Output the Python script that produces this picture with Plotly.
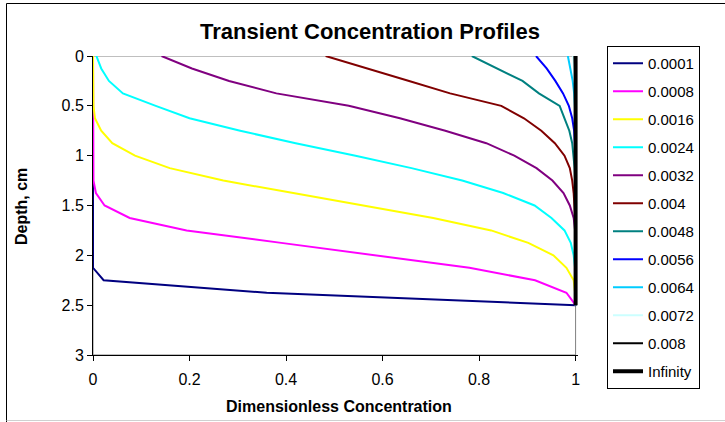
import plotly.graph_objects as go

# Depth grid (cm)
depth = [0.0, 0.125, 0.25, 0.375, 0.5, 0.625, 0.75, 0.875, 1.0, 1.125, 1.25,
         1.375, 1.5, 1.625, 1.75, 1.875, 2.0, 2.125, 2.25, 2.375, 2.5]

# Dimensionless concentration at each depth, one list per time
c_0001 = [0, 0, 0, 0, 0, 0, 0, 0, 0, 0, 0, 0, 0, 0, 0, 0, 0, 0.0, 0.022, 0.36, 1.0]
c_0008 = [0, 0, 0, 0, 0, 0, 0, 0, 0, 0, 0.001, 0.006, 0.024, 0.076, 0.194, 0.39,
          0.585, 0.78, 0.916, 0.981, 1.0]
c_0016 = [0, 0, 0, 0, 0.001, 0.004, 0.017, 0.040, 0.087, 0.159, 0.27, 0.415, 0.56,
          0.705, 0.825, 0.902, 0.954, 0.981, 0.996, 0.999, 1.0]
c_0024 = [0.007, 0.017, 0.033, 0.062, 0.13, 0.2, 0.305, 0.42, 0.544, 0.66, 0.765,
          0.85, 0.915, 0.95, 0.977, 0.99, 0.996, 0.999, 1.0, 1.0, 1.0]
c_0032 = [0.142, 0.205, 0.282, 0.38, 0.53, 0.636, 0.73, 0.815, 0.873, 0.919, 0.952,
          0.975, 0.988, 0.996, 0.999, 1.0, 1.0, 1.0, 1.0, 1.0, 1.0]
c_004 = [0.482, 0.57, 0.655, 0.74, 0.846, 0.893, 0.929, 0.957, 0.977, 0.988, 0.993,
         0.996, 0.998, 0.999, 1.0, 1.0, 1.0, 1.0, 1.0, 1.0, 1.0]
c_0048 = [0.785, 0.837, 0.89, 0.924, 0.967, 0.977, 0.987, 0.993, 0.996, 0.998, 0.999,
          1.0, 1.0, 1.0, 1.0, 1.0, 1.0, 1.0, 1.0, 1.0, 1.0]
c_0056 = [0.918, 0.94, 0.958, 0.974, 0.986, 0.993, 0.997, 0.999, 1.0, 1.0, 1.0,
          1.0, 1.0, 1.0, 1.0, 1.0, 1.0, 1.0, 1.0, 1.0, 1.0]
c_0064 = [0.984, 0.989, 0.994, 0.997, 0.999, 1.0, 1.0, 1.0, 1.0, 1.0, 1.0,
          1.0, 1.0, 1.0, 1.0, 1.0, 1.0, 1.0, 1.0, 1.0, 1.0]
c_0072 = [0.995, 0.997, 0.999, 1.0, 1.0, 1.0, 1.0, 1.0, 1.0, 1.0, 1.0,
          1.0, 1.0, 1.0, 1.0, 1.0, 1.0, 1.0, 1.0, 1.0, 1.0]
c_008 = [0.998, 0.999, 1.0, 1.0, 1.0, 1.0, 1.0, 1.0, 1.0, 1.0, 1.0,
         1.0, 1.0, 1.0, 1.0, 1.0, 1.0, 1.0, 1.0, 1.0, 1.0]
c_inf = [1.0, 1.0, 1.0, 1.0, 1.0, 1.0, 1.0, 1.0, 1.0, 1.0, 1.0,
         1.0, 1.0, 1.0, 1.0, 1.0, 1.0, 1.0, 1.0, 1.0, 1.0]

series_names = ["0.0001", "0.0008", "0.0016", "0.0024", "0.0032", "0.004",
                "0.0048", "0.0056", "0.0064", "0.0072", "0.008", "Infinity"]
series_values = [c_0001, c_0008, c_0016, c_0024, c_0032, c_004,
                 c_0048, c_0056, c_0064, c_0072, c_008, c_inf]
series_colors = ["#000080", "#FF00FF", "#FFFF00", "#00FFFF", "#800080", "#800000",
                 "#008080", "#0000FF", "#00CCFF", "#CCFFFF", "#000000", "#000000"]
series_widths = [2, 2, 2, 2, 2, 2, 2, 2, 2, 2, 2, 4]

x_tick_vals = [0, 0.2, 0.4, 0.6, 0.8, 1.0]
x_tick_text = ["0", "0.2", "0.4", "0.6", "0.8", "1"]
y_tick_vals = [0, 0.5, 1.0, 1.5, 2.0, 2.5, 3.0]
y_tick_text = ["0", "0.5", "1", "1.5", "2", "2.5", "3"]

FONT = "Liberation Sans, Arial, sans-serif"

fig = go.Figure()
for name, vals, color, w in zip(series_names, series_values, series_colors, series_widths):
    fig.add_trace(go.Scatter(x=vals, y=depth, mode="lines", name=name,
                             legendgroup=name,
                             line=dict(color=color, width=w)))

W, H = 725, 422
L, R, T, B = 93, 147, 56, 67
pw, ph = W - L - R, H - T - B


def px(xp):
    return (xp - L) / pw


def py(yp):
    return (H - B - yp) / ph


fig.update_layout(
    width=W, height=H,
    margin=dict(l=L, r=R, t=T, b=B),
    paper_bgcolor="white", plot_bgcolor="white",
    font=dict(family=FONT, color="black"),
    title=dict(text="Transient Concentration Profiles",
               font=dict(size=22, weight="bold", family=FONT, color="black"),
               x=370 / W, xref="container", xanchor="center",
               y=1 - 31 / H, yref="container", yanchor="middle"),
    showlegend=True,
    legend=dict(x=607 / W, y=1 - 46 / H, xref="container", yref="container",
                xanchor="left", yanchor="top", maxheight=400,
                bordercolor="#000000", borderwidth=1, bgcolor="white",
                font=dict(size=15, family=FONT, color="black"),
                tracegroupgap=5.5, itemwidth=30, traceorder="grouped"),
    xaxis=dict(range=[0, 1.005], tickvals=x_tick_vals, ticktext=x_tick_text,
               ticks="outside", ticklen=5, tickcolor="black", showline=True,
               linecolor="black", linewidth=1, showgrid=False, zeroline=False,
               ticklabelstandoff=5,
               layer="below traces", tickfont=dict(size=16, family=FONT, color="black")),
    yaxis=dict(range=[3, 0], tickvals=y_tick_vals, ticktext=y_tick_text,
               ticks="outside", ticklen=5, tickcolor="black", showline=True,
               linecolor="black", linewidth=1, showgrid=False, zeroline=False,
               layer="below traces", tickfont=dict(size=16, family=FONT, color="black")),
    shapes=[
        dict(type="rect", xref="x", yref="y", x0=0, x1=1, y0=0, y1=3,
             line=dict(color="#808080", width=1), layer="below"),
        dict(type="line", xref="paper", yref="paper", x0=px(6.5), x1=px(6.5),
             y0=py(3.5), y1=py(425), line=dict(color="black", width=1)),
        dict(type="line", xref="paper", yref="paper", x0=px(6.5), x1=px(730),
             y0=py(3.5), y1=py(3.5), line=dict(color="black", width=1)),
        dict(type="line", xref="paper", yref="paper", x0=px(6.5), x1=px(730),
             y0=py(420.5), y1=py(420.5), line=dict(color="#D0D0D0", width=1)),
    ],
    annotations=[
        dict(text="Depth, cm", xref="paper", yref="paper", x=px(21), y=py(207),
             textangle=-90, showarrow=False, xanchor="center", yanchor="middle",
             font=dict(size=16, weight="bold", family=FONT, color="black")),
        dict(text="Dimensionless Concentration", xref="paper", yref="paper",
             x=px(339), y=py(406.5), showarrow=False, xanchor="center", yanchor="middle",
             font=dict(size=16, weight="bold", family=FONT, color="black")),
    ],
)

fig.write_html("out.html",
               config={"displayModeBar": False},
               post_script="document.body.style.margin='0px';"
                           "document.body.style.overflow='hidden';")
